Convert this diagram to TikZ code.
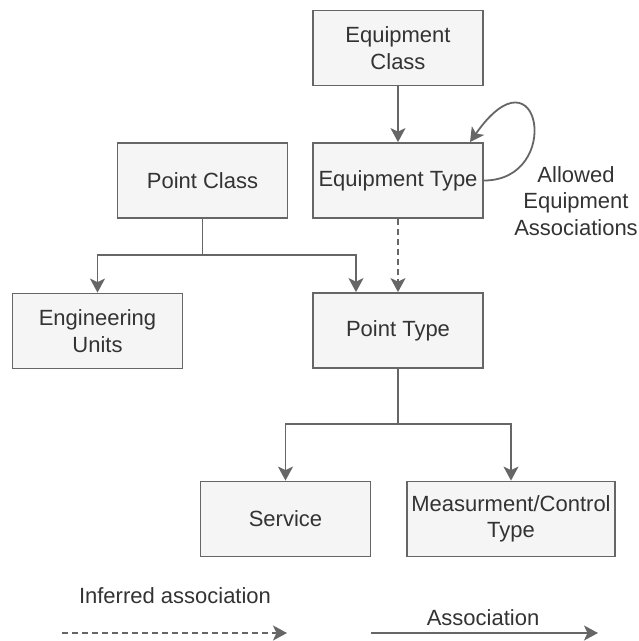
\documentclass[tikz,border=0pt]{standalone}
\usepackage{fontspec}
\setmainfont{Liberation Sans}
\usetikzlibrary{arrows.meta}
\definecolor{boxfill}{HTML}{F5F5F5}
\definecolor{boxline}{HTML}{666666}
\definecolor{txt}{HTML}{333333}
\begin{document}
\begin{tikzpicture}[x=1pt,y=-1pt,
  box/.style={draw=boxline, fill=boxfill, line width=1.8pt, minimum width=170pt, minimum height=75pt, inner sep=0pt, align=center, text=txt, font=\fontsize{22}{26.5}\selectfont},
  conn/.style={draw=boxline, line width=1.8pt, -{Stealth[length=14pt,width=15pt,inset=3.5pt]}},
  plain/.style={draw=boxline, line width=1.8pt},
  lbl/.style={text=txt, align=center, inner sep=0pt, font=\fontsize{22}{26.5}\selectfont},
  inferred/.style={dash pattern=on 6pt off 4pt}]
\useasboundingbox (0,0) rectangle (639,641);

\node[box] (eqc) at (398,48) {Equipment\\Class};
\node[box] (eqt) at (398,180.5) {Equipment Type};
\node[box] (pc) at (202.5,180.5) {Point Class};
\node[box] (eu) at (97.5,331) {Engineering\\Units};
\node[box] (pt) at (398,330.5) {Point Type};
\node[box] (sv) at (285.5,519) {Service};
\node[box, minimum width=208pt] (mc) at (511,519) {Measurment/Control\\Type};

\node[lbl] (allowed) at (576,201) {Allowed\\Equipment\\Associations};
\node[lbl] (inf) at (175,596) {Inferred association};
\node[lbl] (assoc) at (483,618) {Association};

% connectors
\draw[conn] (eqc) -- (eqt);
\draw[conn] (eqt.east) .. controls +(80,0) and +(70,-100) .. ([xshift=72pt]eqt.north);
\draw[conn, inferred] (eqt) -- (pt);

\coordinate (j1) at (202.5,255);
\draw[plain] (pc.south) -- (j1);
\draw[conn] (j1) -| (eu.north);
\draw[conn] (j1) -| ([xshift=-42pt]pt.north);

\coordinate (j2) at (398,424);
\draw[plain] (pt.south) -- (j2);
\draw[conn] (j2) -| (sv.north);
\draw[conn] (j2) -| (mc.north);

% legend
\coordinate (la) at (62,633);
\coordinate (lb) at (287,633);
\coordinate (lc) at (371,633);
\coordinate (ld) at (598,633);
\draw[conn, inferred] (la) -- (lb);
\draw[conn] (lc) -- (ld);
\end{tikzpicture}
\end{document}
